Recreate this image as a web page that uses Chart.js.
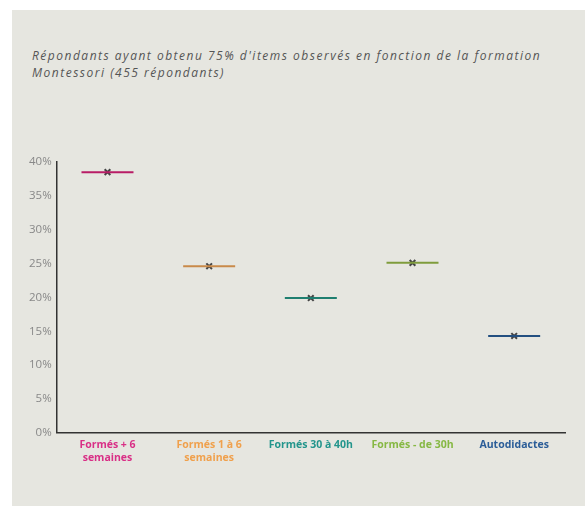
<!DOCTYPE html>
<html>
<head>
<meta charset="utf-8">
<script src="https://cdn.jsdelivr.net/npm/chart.js@4"></script>
<style>
  body { margin: 0; background: #fff; }
  #box { position: absolute; left: 12px; top: 10px; width: 573px; height: 496px; background: #e6e6e0; overflow: hidden; }
  #title { position: absolute; left: 20px; top: 37px; color: #555; font: italic 12px 'Open Sans'; line-height: 17px; letter-spacing: 1.5px; }
  #myChart { position: absolute; left: 0; top: 0; }
</style>
</head>
<body>
<div id="box">
  <div id="title"></div>
  <canvas id="myChart" width="581" height="496"></canvas>
</div>
<script>
const categories = [
    ['Formés + 6', 'semaines'],
    ['Formés 1 à 6', 'semaines'],
    'Formés 30 à 40h',
    'Formés - de 30h',
    'Autodidactes'
];
const values = [38.5, 24.6, 19.9, 25.1, 14.3];
const labelColors = ['#d92f86', '#f0a04c', '#23958c', '#86b843', '#2b5d98'];
const lineColors = ['#b81c66', '#c98a4a', '#1f7f70', '#7f9c3c', '#234f80'];
const titleLines = [
    "Répondants ayant obtenu 75% d'items observés en fonction de la formation",
    'Montessori (455 répondants)'
];

document.getElementById('title').innerHTML = titleLines.join('<br>');

const ctx = document.getElementById('myChart').getContext('2d');

const chart = new Chart(ctx, {
    type: 'line',
    data: {
        labels: categories,
        datasets: [{
            data: values,
            showLine: false,
            pointStyle: 'line',
            pointRadius: 26,
            pointHoverRadius: 26,
            pointBorderWidth: 2,
            pointBorderColor: lineColors,
        }, {
            data: values,
            showLine: false,
            pointStyle: 'crossRot',
            pointRadius: 4,
            pointHoverRadius: 4,
            pointBorderWidth: 2,
            pointBorderColor: '#444',
        }],
    },
    options: {
        responsive: false,
        animation: false,
        layout: { padding: { left: 12, right: 0, top: 152, bottom: 35 } },
        plugins: {
            legend: { display: false },
            tooltip: { enabled: false }
        },
        scales: {
            x: {
                offset: true,
                grid: { display: false, drawTicks: false },
                border: { color: '#333', width: 1.5 },
                ticks: {
                    color: (c) => labelColors[c.index],
                    font: { family: 'Open Sans', size: 10.5, weight: 'bold', lineHeight: 1.25 },
                    maxRotation: 0,
                    autoSkip: false,
                    padding: 6
                }
            },
            y: {
                min: 0,
                max: 40,
                grid: { display: false, drawTicks: false },
                border: { color: '#333', width: 1.5 },
                ticks: {
                    stepSize: 5,
                    color: '#888',
                    font: { family: 'Open Sans', size: 11.5 },
                    padding: 5,
                    callback: (v) => v + '%'
                }
            }
        }
    }
});
</script>
</body>
</html>
